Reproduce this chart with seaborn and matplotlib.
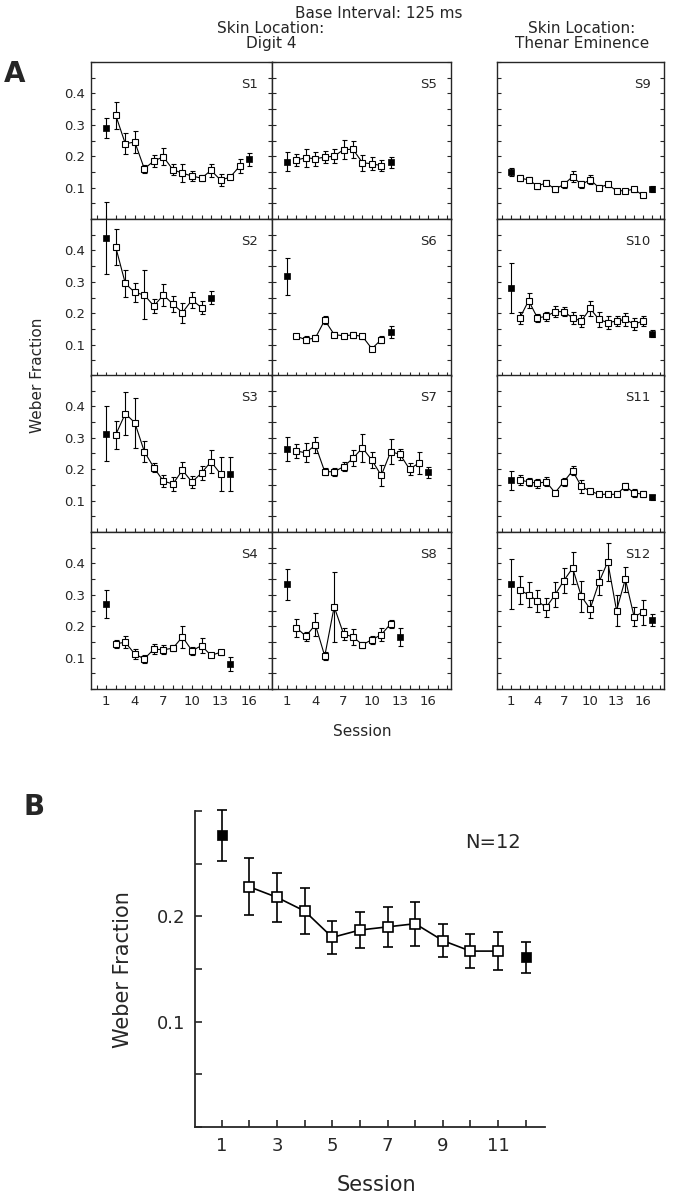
import numpy as np
import pandas as pd
import matplotlib
matplotlib.use("Agg")
import matplotlib.pyplot as plt
import seaborn as sns
from matplotlib.ticker import MultipleLocator, FixedLocator

# ---- Data: Weber fraction per session (first and last points are the filled squares) ----
S1_weber = [0.29, 0.33, 0.24, 0.245, 0.16, 0.185, 0.198, 0.157, 0.146, 0.137, 0.13, 0.155, 0.124, 0.133, 0.168, 0.19]
S1_sem = [0.033, 0.043, 0.033, 0.036, 0.013, 0.02, 0.027, 0.018, 0.028, 0.016, 0.009, 0.02, 0.019, 0.005, 0.023, 0.02]

S2_weber = [0.44, 0.41, 0.295, 0.266, 0.258, 0.223, 0.258, 0.229, 0.202, 0.242, 0.218, 0.25]
S2_sem = [0.115, 0.057, 0.044, 0.03, 0.078, 0.022, 0.036, 0.025, 0.032, 0.027, 0.02, 0.021]

S3_weber = [0.313, 0.31, 0.377, 0.348, 0.256, 0.205, 0.162, 0.153, 0.197, 0.159, 0.188, 0.224, 0.185, 0.185]
S3_sem = [0.088, 0.045, 0.068, 0.08, 0.033, 0.015, 0.018, 0.021, 0.025, 0.018, 0.022, 0.037, 0.053, 0.053]

S4_weber = [0.271, 0.144, 0.149, 0.111, 0.096, 0.127, 0.125, 0.13, 0.166, 0.122, 0.138, 0.107, 0.117, 0.08]
S4_sem = [0.045, 0.013, 0.02, 0.015, 0.012, 0.017, 0.015, 0.01, 0.035, 0.013, 0.023, 0.006, 0.008, 0.022]

S5_weber = [0.182, 0.188, 0.195, 0.192, 0.197, 0.2, 0.221, 0.222, 0.179, 0.176, 0.17, 0.181]
S5_sem = [0.03, 0.02, 0.028, 0.022, 0.02, 0.022, 0.03, 0.028, 0.025, 0.02, 0.018, 0.018]

S6_weber = [0.318, 0.126, 0.116, 0.121, 0.178, 0.132, 0.128, 0.131, 0.126, 0.087, 0.116, 0.14]
S6_sem = [0.059, 0.006, 0.01, 0.008, 0.012, 0.008, 0.006, 0.01, 0.008, 0.006, 0.01, 0.02]

S7_weber = [0.264, 0.258, 0.252, 0.277, 0.192, 0.192, 0.208, 0.235, 0.268, 0.229, 0.18, 0.256, 0.247, 0.2, 0.22, 0.19]
S7_sem = [0.038, 0.023, 0.03, 0.027, 0.012, 0.013, 0.015, 0.025, 0.045, 0.025, 0.032, 0.04, 0.017, 0.02, 0.035, 0.017]

S8_weber = [0.333, 0.195, 0.168, 0.205, 0.105, 0.262, 0.175, 0.166, 0.141, 0.157, 0.173, 0.208, 0.166]
S8_sem = [0.05, 0.028, 0.015, 0.036, 0.012, 0.112, 0.018, 0.025, 0.01, 0.013, 0.021, 0.013, 0.029]

S9_weber = [0.15, 0.13, 0.125, 0.105, 0.115, 0.095, 0.11, 0.135, 0.11, 0.125, 0.1, 0.11, 0.09, 0.09, 0.095, 0.075, 0.095]
S9_sem = [0.013, 0.01, 0.008, 0.008, 0.008, 0.008, 0.01, 0.018, 0.012, 0.015, 0.008, 0.008, 0.006, 0.006, 0.008, 0.006, 0.01]

S10_weber = [0.28, 0.185, 0.24, 0.185, 0.19, 0.205, 0.205, 0.185, 0.175, 0.215, 0.18, 0.17, 0.175, 0.18, 0.165, 0.175, 0.135]
S10_sem = [0.08, 0.02, 0.025, 0.012, 0.015, 0.018, 0.015, 0.02, 0.02, 0.025, 0.025, 0.02, 0.015, 0.02, 0.02, 0.015, 0.012]

S11_weber = [0.165, 0.165, 0.16, 0.155, 0.16, 0.125, 0.16, 0.195, 0.145, 0.13, 0.12, 0.12, 0.12, 0.145, 0.125, 0.12, 0.11]
S11_sem = [0.03, 0.015, 0.012, 0.015, 0.015, 0.008, 0.012, 0.015, 0.02, 0.008, 0.006, 0.006, 0.006, 0.012, 0.012, 0.01, 0.008]

S12_weber = [0.335, 0.315, 0.3, 0.28, 0.26, 0.3, 0.345, 0.385, 0.295, 0.255, 0.34, 0.405, 0.25, 0.35, 0.23, 0.245, 0.22]
S12_sem = [0.08, 0.045, 0.04, 0.035, 0.03, 0.04, 0.04, 0.05, 0.05, 0.03, 0.04, 0.06, 0.05, 0.04, 0.03, 0.04, 0.02]

# group mean (panel B)
group_weber = [0.277, 0.228, 0.218, 0.205, 0.18, 0.187, 0.19, 0.193, 0.177, 0.167, 0.167, 0.161]
group_sem = [0.024, 0.027, 0.023, 0.022, 0.016, 0.017, 0.019, 0.021, 0.016, 0.016, 0.018, 0.015]

subject_labels = ["S1", "S2", "S3", "S4", "S5", "S6", "S7", "S8", "S9", "S10", "S11", "S12"]
subject_data = [(S1_weber, S1_sem), (S2_weber, S2_sem), (S3_weber, S3_sem), (S4_weber, S4_sem),
                (S5_weber, S5_sem), (S6_weber, S6_sem), (S7_weber, S7_sem), (S8_weber, S8_sem),
                (S9_weber, S9_sem), (S10_weber, S10_sem), (S11_weber, S11_sem), (S12_weber, S12_sem)]

sns.set_style("ticks")
plt.rcParams["font.family"] = ["DejaVu Sans"]

W, H = 684, 1199
fig = plt.figure(figsize=(W / 100, H / 100), dpi=100)


def rect(x0, x1, ytop, ybot):
    return [x0 / W, 1 - ybot / H, (x1 - x0) / W, (ybot - ytop) / H]


def draw_series(ax, weber, sem, ms, cap, lw):
    df = pd.DataFrame({"session": np.arange(1, len(weber) + 1), "weber": weber, "sem": sem})
    inner = df.iloc[1:-1]
    ends = df.iloc[[0, -1]]
    ax.errorbar(df["session"], df["weber"], yerr=df["sem"], fmt="none", ecolor="black",
                elinewidth=lw, capsize=cap, capthick=lw, clip_on=False, zorder=2)
    sns.lineplot(data=inner, x="session", y="weber", ax=ax, color="black", lw=lw,
                 marker="s", markersize=ms, markerfacecolor="white", markeredgecolor="black",
                 markeredgewidth=lw, errorbar=None, zorder=3, clip_on=False)
    sns.scatterplot(data=ends, x="session", y="weber", ax=ax, marker="s", color="black",
                    s=ms ** 2, edgecolor="black", linewidth=0.5, zorder=4, clip_on=False)
    ax.set_xlabel("")
    ax.set_ylabel("")


# ---- Panel A ----
cols = [(91, 272), (272, 451), (497, 664)]
row_tops = [62, 219, 375, 532]
row_h = 157

for i, (label, (wb, se)) in enumerate(zip(subject_labels, subject_data)):
    c, r = divmod(i, 4)
    x0, x1 = cols[c]
    ax = fig.add_axes(rect(x0, x1, row_tops[r], row_tops[r] + row_h))
    draw_series(ax, wb, se, ms=4, cap=1.8, lw=0.8)
    ax.set_xlim(-0.6, 18.4)
    ax.set_ylim(0, 0.5)
    ax.yaxis.set_major_locator(FixedLocator([0.1, 0.2, 0.3, 0.4]))
    ax.yaxis.set_minor_locator(MultipleLocator(0.05))
    ax.xaxis.set_major_locator(FixedLocator([1, 4, 7, 10, 13, 16]))
    ax.xaxis.set_minor_locator(MultipleLocator(1))
    ax.tick_params(which="both", direction="in", length=3, width=0.8, right=True, top=False,
                   labelsize=9.5, pad=4)
    ax.tick_params(labelleft=(c == 0), labelbottom=(r == 3))
    for sp in ax.spines.values():
        sp.set_linewidth(1.0)
    ax.text(0.92, 0.9, label, transform=ax.transAxes, ha="right", va="top", fontsize=9.5)

fig.text(379 / W, 1 - 14 / H, "Base Interval: 125 ms", ha="center", va="center", fontsize=11)
fig.text(271 / W, 1 - 36 / H, "Skin Location:\nDigit 4", ha="center", va="center",
         fontsize=11, linespacing=0.95)
fig.text(582 / W, 1 - 36 / H, "Skin Location:\nThenar Eminence", ha="center", va="center",
         fontsize=11, linespacing=0.95)
fig.text(15 / W, 1 - 74 / H, "A", ha="center", va="center", fontsize=20, fontweight="bold")
fig.text(37 / W, 1 - 375 / H, "Weber Fraction", rotation=90, ha="center", va="center", fontsize=11)
fig.text(362 / W, 1 - 731 / H, "Session", ha="center", va="center", fontsize=11)

# ---- Panel B ----
axb = fig.add_axes(rect(195, 545, 811, 1127))
draw_series(axb, group_weber, group_sem, ms=7.5, cap=3.8, lw=1.2)
axb.set_xlim(0.03, 12.7)
axb.set_ylim(0, 0.3)
axb.yaxis.set_major_locator(FixedLocator([0.1, 0.2]))
axb.yaxis.set_minor_locator(MultipleLocator(0.05))
axb.xaxis.set_major_locator(FixedLocator([1, 3, 5, 7, 9, 11]))
axb.xaxis.set_minor_locator(MultipleLocator(1))
axb.tick_params(which="both", direction="in", length=5, width=1.2, labelsize=13, pad=7)
sns.despine(ax=axb)
for sp in ["left", "bottom"]:
    axb.spines[sp].set_linewidth(1.3)
axb.text(465 / W, 1 - 842 / H, "N=12", transform=fig.transFigure, ha="left", va="center", fontsize=14)

fig.text(34 / W, 1 - 807 / H, "B", ha="center", va="center", fontsize=20, fontweight="bold")
fig.text(123 / W, 1 - 970 / H, "Weber Fraction", rotation=90, ha="center", va="center", fontsize=15)
fig.text(376 / W, 1 - 1185 / H, "Session", ha="center", va="center", fontsize=15)

fig.savefig("out.png", dpi=100)
